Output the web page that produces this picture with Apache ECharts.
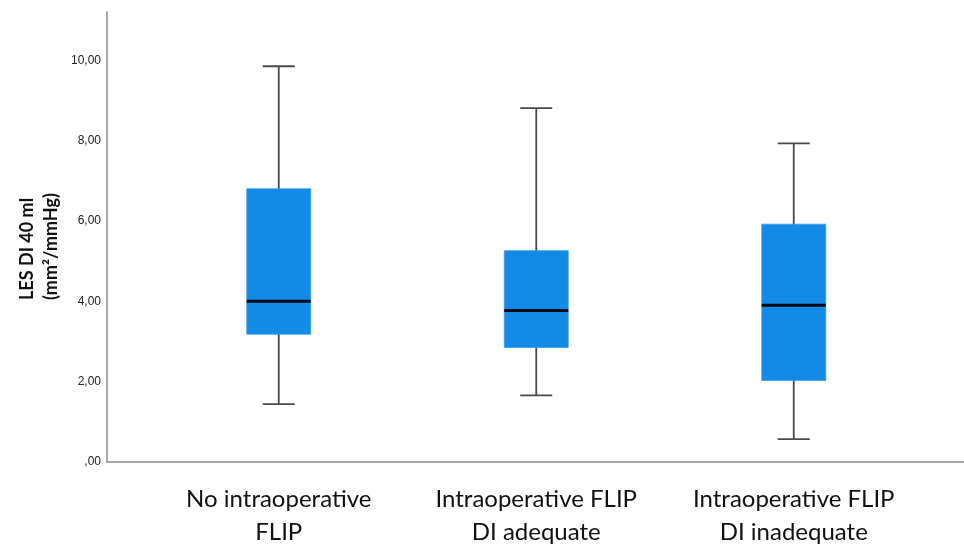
<!DOCTYPE html>
<html>
<head>
<meta charset="utf-8">
<script src="https://cdn.jsdelivr.net/npm/echarts@6/dist/echarts.min.js"></script>
<style>html,body{margin:0;padding:0;background:#fff}#c{width:964px;height:544px}</style>
</head>
<body>
<div id="c"></div>
<script>
// ---- data ----
const categories = ['No intraoperative\nFLIP', 'Intraoperative FLIP\nDI adequate', 'Intraoperative FLIP\nDI inadequate'];
const whiskerLow  = [1.44, 1.66, 0.57];
const q1          = [3.18, 2.85, 2.03];
const medians     = [4.00, 3.77, 3.90];
const q3          = [6.80, 5.26, 5.92];
const whiskerHigh = [9.85, 8.81, 7.93];
const yTicks = [0, 2, 4, 6, 8, 10];
const yMax = 11.2;
const yTitle = 'LES DI 40 ml\n(mm\u00B2/mmHg)';

const boxData = categories.map((c, i) => [i, whiskerLow[i], q1[i], medians[i], q3[i], whiskerHigh[i]]);

const chart = echarts.init(document.getElementById('c'), null, {renderer: 'canvas'});

function fmt(v) {
  if (v === 0) return ',00';
  return v.toFixed(2).replace('.', ',');
}

chart.setOption({
  animation: false,
  backgroundColor: '#ffffff',
  grid: [
    {left: 150, width: 772.5, top: 12, bottom: 82, containLabel: false, outerBoundsMode: 'none'},
    {left: 107, right: 0, top: 12, bottom: 82, containLabel: false, outerBoundsMode: 'none'}
  ],
  xAxis: [
    {
      type: 'category', gridIndex: 0, data: categories,
      axisLine: {show: false}, axisTick: {show: false},
      axisLabel: {fontFamily: 'Lato', fontSize: 24, color: '#111', lineHeight: 33, margin: 21, interval: 0}
    },
    {
      type: 'value', gridIndex: 1, min: 0, max: 1,
      axisLine: {show: true, onZero: false, lineStyle: {color: '#8c8c8c', width: 1.5}},
      axisTick: {show: false}, axisLabel: {show: false}, splitLine: {show: false}
    }
  ],
  yAxis: [
    {
      type: 'value', gridIndex: 0, min: 0, max: yMax,
      show: false
    },
    {
      type: 'value', gridIndex: 1, min: 0, max: yMax, interval: 2,
      axisLine: {show: true, lineStyle: {color: '#8c8c8c', width: 1.5}},
      axisTick: {show: false}, splitLine: {show: false},
      axisLabel: {
        margin: 6, fontFamily: 'Liberation Sans', fontSize: 12, color: '#222',
        formatter: function (v) { return yTicks.indexOf(v) >= 0 ? fmt(v) : ''; }
      }
    }
  ],
  graphic: [
    {
      type: 'text', x: 39, y: 300, rotation: Math.PI / 2,
      style: {
        text: yTitle, font: 'bold 18px Lato', fill: '#111',
        align: 'left', verticalAlign: 'middle', lineHeight: 24
      }
    }
  ],
  series: [
    {
      type: 'custom', xAxisIndex: 0, yAxisIndex: 0,
      data: boxData,
      encode: {x: 0, y: [1, 2, 3, 4, 5]},
      renderItem: function (params, api) {
        const x = api.value(0);
        const pLow = api.coord([x, api.value(1)]);
        const pQ1 = api.coord([x, api.value(2)]);
        const pMed = api.coord([x, api.value(3)]);
        const pQ3 = api.coord([x, api.value(4)]);
        const pHigh = api.coord([x, api.value(5)]);
        const band = api.size([1, 0])[0];
        const boxW = band * 0.2485;
        const capW = boxW * 0.5;
        const cx = pMed[0];
        const wStyle = {stroke: '#4a4a4a', lineWidth: 1.8};
        return {
          type: 'group',
          children: [
            {type: 'line', shape: {x1: cx, y1: pLow[1], x2: cx, y2: pHigh[1]}, style: wStyle},
            {type: 'line', shape: {x1: cx - capW / 2, y1: pHigh[1], x2: cx + capW / 2, y2: pHigh[1]}, style: wStyle},
            {type: 'line', shape: {x1: cx - capW / 2, y1: pLow[1], x2: cx + capW / 2, y2: pLow[1]}, style: wStyle},
            {type: 'rect', shape: {x: cx - boxW / 2, y: pQ3[1], width: boxW, height: pQ1[1] - pQ3[1]},
              style: {fill: '#138ae6', stroke: '#3a9ded', lineWidth: 0.8}},
            {type: 'line', shape: {x1: cx - boxW / 2, y1: pMed[1], x2: cx + boxW / 2, y2: pMed[1]},
              style: {stroke: '#050a14', lineWidth: 3}}
          ]
        };
      }
    }
  ]
});
</script>
</body>
</html>
